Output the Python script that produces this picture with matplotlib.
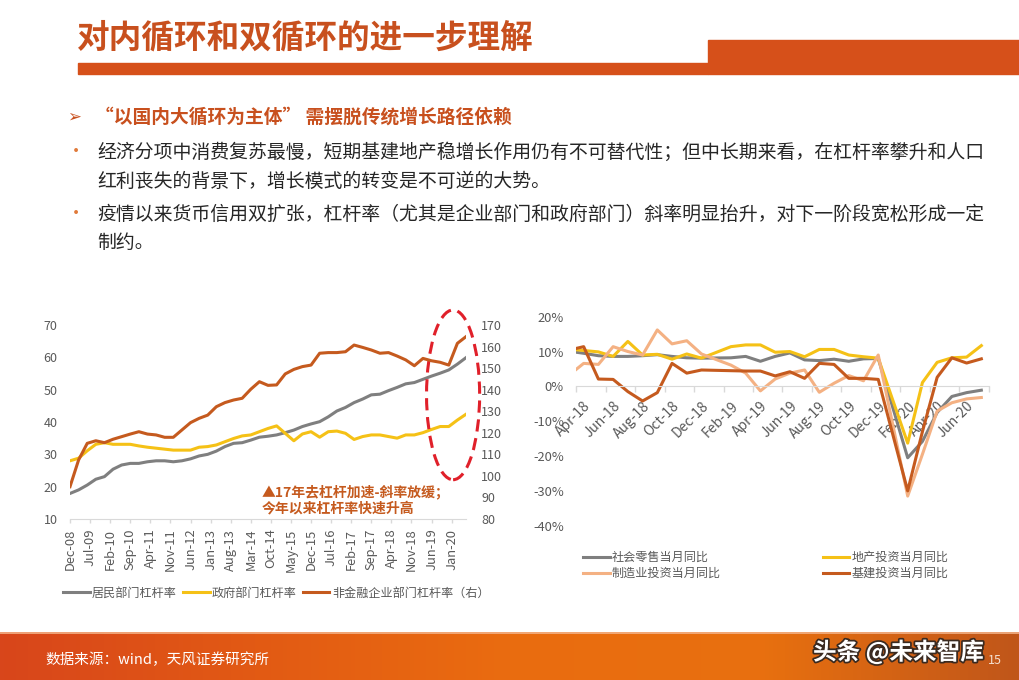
import numpy as np
import pandas as pd
import matplotlib
matplotlib.use("Agg")
import matplotlib.pyplot as plt
import matplotlib.patheffects as pe
from matplotlib.patches import Ellipse, Rectangle

plt.rcParams['font.family'] = ['Noto Sans CJK SC', 'DejaVu Sans']
plt.rcParams['axes.unicode_minus'] = False

# ============================================================
#   DADOS - GRAFICO ESQUERDO (trimestral, Dec-08 .. Jun-20)
# ============================================================

rotulos_esq = ['Dec-08', 'Jul-09', 'Feb-10', 'Sep-10', 'Apr-11', 'Nov-11', 'Jun-12',
               'Jan-13', 'Aug-13', 'Mar-14', 'Oct-14', 'May-15', 'Dec-15', 'Jul-16',
               'Feb-17', 'Sep-17', 'Apr-18', 'Nov-18', 'Jun-19', 'Jan-20']

residentes = [17.9, 19.0, 20.5, 22.3, 23.1, 25.4, 26.7, 27.2, 27.2, 27.7, 28.0, 28.0,
              27.7, 28.0, 28.6, 29.5, 30.0, 31.0, 32.4, 33.4, 33.6, 34.4, 35.3, 35.6,
              36.0, 36.7, 37.5, 38.6, 39.4, 40.1, 41.6, 43.4, 44.5, 46.0, 47.1, 48.4,
              48.6, 49.7, 50.7, 51.8, 52.2, 53.2, 54.2, 55.1, 56.1, 57.9, 59.9]

governo = [28.0, 28.8, 31.1, 33.1, 33.6, 33.1, 33.1, 33.1, 32.6, 32.2, 31.9, 31.6,
           31.3, 31.3, 31.3, 32.2, 32.4, 32.9, 33.9, 34.9, 35.7, 36.0, 37.0, 38.0,
           38.8, 36.5, 34.2, 36.3, 37.0, 35.3, 37.0, 37.2, 36.5, 34.6, 35.5, 36.0,
           36.0, 35.5, 35.0, 36.0, 36.0, 36.7, 37.7, 38.6, 38.6, 40.6, 42.4]

empresas = [95.0, 107.4, 115.1, 116.3, 115.4, 117.0, 118.2, 119.4, 120.5, 119.4, 119.0, 117.9,
            117.9, 121.3, 124.7, 126.7, 128.2, 132.1, 134.0, 135.2, 136.0, 140.2, 143.7, 142.0,
            142.2, 147.3, 149.4, 150.7, 151.4, 156.9, 157.2, 157.2, 157.6, 160.7, 159.6, 158.4,
            156.9, 157.2, 155.6, 153.8, 151.1, 154.5, 153.4, 152.7, 151.4, 161.5, 164.6]

# ============================================================
#   DADOS - GRAFICO DIREITO (mensal, Mar-18 .. Jul-20)
# ============================================================

meses_dir = list(pd.date_range('2018-03-01', '2020-07-01', freq='MS').strftime('%b-%y'))
nan = np.nan

varejo = [10.1, 9.5, 8.8, 8.6, 8.6, 8.8, 9.1, 8.6, 8.2, 8.1,
          nan, 8.2, 8.6, 7.2, 8.6, 9.6, 7.6, 7.4, 7.8, 7.2, 7.9, 8.0,
          nan, -20.5, -15.8, -7.5, -2.9, -1.8, -1.1]
imobiliario = [10.7, 10.3, 9.9, 8.6, 12.9, 9.0, 9.2, 7.8, 9.3, 8.1,
               nan, 11.4, 11.9, 11.9, 9.8, 10.0, 8.5, 10.6, 10.6, 9.0, 8.5, 8.1,
               nan, -16.3, 1.1, 6.9, 8.2, 8.4, 11.7]
manufatura = [3.2, 6.6, 6.3, 11.4, 10.0, 9.0, 16.2, 12.2, 13.1, 9.3,
              nan, 6.1, 3.8, -1.3, 2.1, 3.8, 4.7, -1.7, 0.9, 3.1, 1.6, 9.0,
              nan, -31.5, -19.5, -7.1, -4.7, -3.6, -3.2]
infraestrutura = [10.4, 11.4, 2.1, 2.0, -1.5, -4.2, -1.8, 6.6, 3.8, 4.7,
                  nan, 4.5, 4.4, 4.4, 3.0, 4.2, 2.3, 6.6, 6.3, 2.3, 2.3, 2.0,
                  nan, -30.0, -13.0, 2.6, 8.2, 6.7, 7.9]

CINZA = '#7f7f7f'
AMARELO = '#f5c116'
LARANJA = '#c55a1e'
PESSEGO = '#f4b183'
TXT_EIXO = '#595959'
TITULO = '#c8501e'

W, H = 1020, 680
fig = plt.figure(figsize=(W / 100, H / 100), dpi=100)


def fx(px):
    return px / W


def fy(py):
    return 1 - py / H


# ============================================================
#   CABECALHO E TEXTO
# ============================================================

fig.text(fx(77), fy(38), '对内循环和双循环的进一步理解', fontsize=23.5, weight='bold',
         color=TITULO, va='center', ha='left')
fig.patches.append(Rectangle((fx(78), fy(74)), fx(630), 11 / H, transform=fig.transFigure,
                             color='#d6501a', zorder=1))
fig.patches.append(Rectangle((fx(708), fy(74)), fx(312), 34 / H, transform=fig.transFigure,
                             color='#d6501a', zorder=1))

fig.text(fx(67), fy(117), '➢', fontsize=12, color=TITULO, va='center')
fig.text(fx(95), fy(117), '“以国内大循环为主体” 需摆脱传统增长路径依赖', fontsize=13.5,
         weight='bold', color=TITULO, va='center')

linhas = [
    (152, True, '经济分项中消费复苏最慢，短期基建地产稳增长作用仍有不可替代性；但中长期来看，在杠杆率攀升和人口'),
    (181, False, '红利丧失的背景下，增长模式的转变是不可逆的大势。'),
    (214, True, '疫情以来货币信用双扩张，杠杆率（尤其是企业部门和政府部门）斜率明显抬升，对下一阶段宽松形成一定'),
    (242, False, '制约。'),
]
for y, bullet, txt in linhas:
    if bullet:
        fig.text(fx(67), fy(y), '•', fontsize=13, color='#e07a3a', va='center')
    fig.text(fx(97), fy(y), txt, fontsize=13.6, color='#262626', va='center')

# ============================================================
#   GRAFICO ESQUERDO
# ============================================================

ax1 = fig.add_axes([fx(70), fy(519), fx(466 - 70), (519 - 325) / H])
x_tri = np.arange(len(residentes)) * 3
ax1.plot(x_tri, residentes, color=CINZA, lw=2.2, label='居民部门杠杆率')
ax1.plot(x_tri, governo, color=AMARELO, lw=2.2, label='政府部门杠杆率')
ax1.set_xlim(0, 138)
ax1.set_ylim(10, 70)
ax1.set_yticks(range(10, 71, 10))
ax1.set_xticks(np.arange(len(rotulos_esq)) * 7)
ax1.set_xticklabels(rotulos_esq, rotation=90)
ax1.tick_params(axis='x', length=3, width=1, color='#d9d9d9', pad=4, labelsize=9.3, labelcolor=TXT_EIXO)
ax1.tick_params(axis='y', length=0, pad=9, labelsize=9, labelcolor=TXT_EIXO)
for s in ['top', 'left', 'right']:
    ax1.spines[s].set_visible(False)
ax1.spines['bottom'].set_color('#d9d9d9')

ax1b = ax1.twinx()
ax1b.plot(x_tri, empresas, color=LARANJA, lw=2.2, label='非金融企业部门杠杆率（右）')
ax1b.set_ylim(80, 170)
ax1b.set_yticks(range(80, 171, 10))
ax1b.tick_params(axis='y', length=0, pad=11, labelsize=9, labelcolor=TXT_EIXO)
for s in ax1b.spines.values():
    s.set_visible(False)

# destaque tracejado
ax1.add_patch(Ellipse((133.5, 48.4), 18.5, 52.5, fill=False, ec='#e0202a', lw=2.2,
                      ls=(0, (4, 2.2)), clip_on=False, zorder=5))
fig.text(fx(262), fy(492), '▲17年去杠杆加速-斜率放缓；', fontsize=10, weight='bold',
         color=LARANJA, va='center')
fig.text(fx(262), fy(508), '今年以来杠杆率快速升高', fontsize=10, weight='bold',
         color=LARANJA, va='center')

h1, l1 = ax1.get_legend_handles_labels()
h2, l2 = ax1b.get_legend_handles_labels()
fig.legend(h1 + h2, l1 + l2, loc='center left', bbox_to_anchor=(fx(63), fy(593)), ncol=3,
           frameon=False, fontsize=8.7, handlelength=2.2, handletextpad=0.2,
           columnspacing=0.5, borderaxespad=0, borderpad=0, labelcolor=TXT_EIXO)

# ============================================================
#   GRAFICO DIREITO
# ============================================================

ax2 = fig.add_axes([fx(576.3), fy(525.7), fx(988.7 - 576.3), (525.7 - 316.7) / H])
for s in ['top', 'left', 'right']:
    ax2.spines[s].set_visible(False)
# eixo x cruza no zero (tem que vir antes dos rotulos, senao reseta)
ax2.spines['bottom'].set_position(('data', 0))
ax2.spines['bottom'].set_color('#d9d9d9')

x_mes = np.arange(len(meses_dir))
series = [(varejo, CINZA, '社会零售当月同比'),
          (manufatura, PESSEGO, '制造业投资当月同比'),
          (imobiliario, AMARELO, '地产投资当月同比'),
          (infraestrutura, LARANJA, '基建投资当月同比')]
handles = {}
for vals, cor, nome in [series[0], series[2], series[1], series[3]]:
    v = np.array(vals, dtype=float)
    ok = ~np.isnan(v)
    handles[nome], = ax2.plot(x_mes[ok], v[ok], color=cor, lw=2.2, label=nome)

ax2.set_xlim(0.5, 28.5)
ax2.set_ylim(-40, 20)
ax2.set_yticks(range(-40, 21, 10))
ax2.set_yticklabels([f'{v}%' for v in range(-40, 21, 10)])
ax2.tick_params(axis='y', length=0, pad=9, labelsize=9.3, labelcolor=TXT_EIXO)
ax2.set_xticks(x_mes[1::2][:14])
ax2.set_xticklabels(meses_dir[1::2][:14], rotation=45, ha='right', rotation_mode='anchor')
ax2.set_xticks(np.arange(0.5, 28.6, 2), minor=True)
ax2.tick_params(axis='x', which='major', length=0, pad=9, labelsize=10, labelcolor=TXT_EIXO)
ax2.tick_params(axis='x', which='minor', length=4, width=1, color='#d9d9d9')

ordem = [s[2] for s in series]
fig.legend([handles[n] for n in ordem], ordem, loc='upper left',
           bbox_to_anchor=(fx(583), fy(551)), ncol=2, frameon=False, fontsize=8.7,
           handlelength=2.2, handletextpad=0.2, columnspacing=8.4, labelspacing=0.25,
           borderaxespad=0, borderpad=0, labelcolor=TXT_EIXO)

# ============================================================
#   RODAPE
# ============================================================

axr = fig.add_axes([0, 0, 1, 48 / H])
grad = np.linspace(0, 1, 256).reshape(1, -1)
cmap = matplotlib.colors.LinearSegmentedColormap.from_list(
    'rod', ['#d8461b', '#e25a14', '#ea6c10', '#e8700f', '#c0561a'])
axr.imshow(grad, aspect='auto', cmap=cmap, extent=[0, 1, 0, 1])
axr.axhline(0.985, color='#f3b38a', lw=1.2)
axr.set_axis_off()

fig.text(fx(45), fy(660), '数据来源：wind，天风证券研究所', fontsize=10.5, color='white', va='center')
fig.text(fx(813), fy(652), '头条 @未来智库', fontsize=17, color='white', va='center', weight='bold',
         path_effects=[pe.withStroke(linewidth=2.5, foreground='#3a2a20')])
fig.text(fx(988), fy(661), '15', fontsize=9, color='#f5e0d0', va='center')

fig.savefig('out.png', dpi=100)
